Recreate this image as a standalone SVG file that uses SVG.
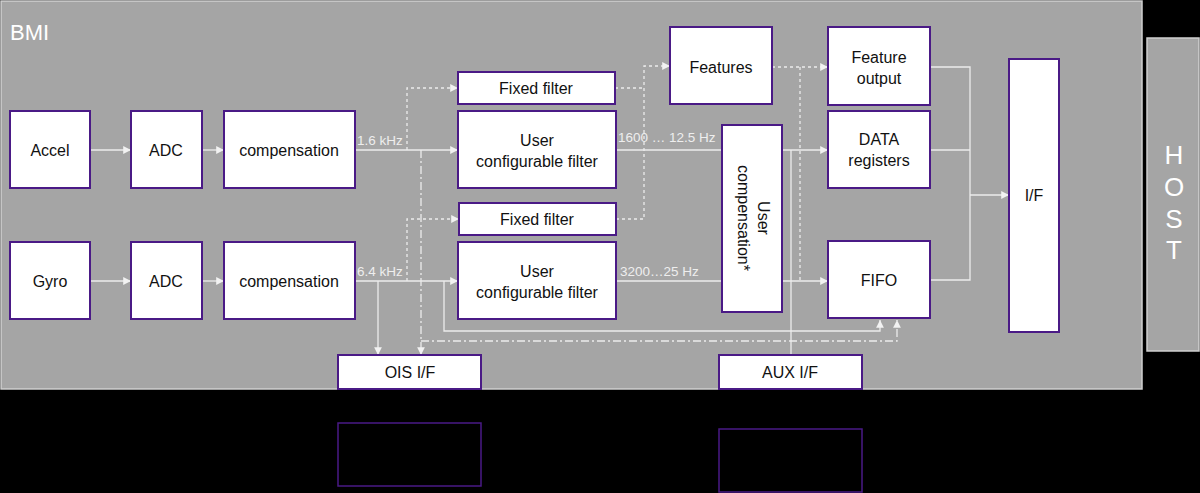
<svg xmlns="http://www.w3.org/2000/svg" width="1200" height="493" viewBox="0 0 1200 493">
<defs>
<marker id="ar" viewBox="0 0 10 10" refX="10" refY="5" markerWidth="6" markerHeight="6" orient="auto"><path d="M0,0 L10,5 L0,10 z" fill="#f2f2f2"/></marker>
<style>
.b{fill:#fff;stroke:#4a1a86;stroke-width:2}
.o{fill:none;stroke:#4a1a86;stroke-width:1.5}
.t{font-family:"Liberation Sans",Arial,sans-serif;font-size:16px;fill:#111;text-anchor:middle}
.l{font-family:"Liberation Sans",Arial,sans-serif;font-size:13.5px;fill:#eee}
.c{fill:none;stroke:#ececec;stroke-width:1.3}
.d{stroke-dasharray:3,3}
.dd{stroke-dasharray:8,3,2,3}
</style>
</defs>
<rect width="1200" height="493" fill="#000"/>
<rect x="1" y="1" width="1141" height="388" fill="#a5a5a5" stroke="#d0d0d0" stroke-width="1.5"/>
<text x="10" y="40" style="font-family:'Liberation Sans',Arial,sans-serif;font-size:22px;fill:#fff">BMI</text>
<rect x="1147" y="38" width="52" height="313" fill="#a5a5a5" stroke="#d0d0d0" stroke-width="1.5"/>
<g style="font-family:'Liberation Sans',Arial,sans-serif;font-size:26px;fill:#fff" text-anchor="middle">
<text x="1174" y="164">H</text><text x="1174" y="196">O</text><text x="1174" y="228">S</text><text x="1174" y="259">T</text>
</g>
<g id="connectors">
<path class="c" d="M90,150H131" marker-end="url(#ar)"/>
<path class="c" d="M202,150H224" marker-end="url(#ar)"/>
<path class="c" d="M355,150H458" marker-end="url(#ar)"/>
<path class="c" d="M90,281H131" marker-end="url(#ar)"/>
<path class="c" d="M202,281H224" marker-end="url(#ar)"/>
<path class="c" d="M355,281H458" marker-end="url(#ar)"/>
<path class="c d" d="M407,150V88H458" marker-end="url(#ar)"/>
<path class="c d" d="M407,281V219H459" marker-end="url(#ar)"/>
<path class="c dd" d="M421,150V355" marker-end="url(#ar)"/>
<path class="c dd" d="M421,341H897V320" marker-end="url(#ar)"/>
<path class="c" d="M378,281V355" marker-end="url(#ar)"/>
<path class="c" d="M444,281V331H880V320" marker-end="url(#ar)"/>
<path class="c d" d="M615,88H644"/>
<path class="c d" d="M616,219H644V66H670" marker-end="url(#ar)"/>
<path class="c d" d="M772,67H828" marker-end="url(#ar)"/>
<path class="c d" d="M800,67V280"/>
<path class="c" d="M616,150H722"/>
<path class="c" d="M616,281H722"/>
<path class="c" d="M782,150H828" marker-end="url(#ar)"/>
<path class="c" d="M782,281H828" marker-end="url(#ar)"/>
<path class="c" d="M791,150V355"/>
<path class="c" d="M930,67H970V280H930M930,150H970"/>
<path class="c" d="M970,195H1009" marker-end="url(#ar)"/>
</g>
<text class="l" x="357" y="145">1.6 kHz</text>
<text class="l" x="357" y="276">6.4 kHz</text>
<text class="l" x="618" y="142">1600 … 12.5 Hz</text>
<text class="l" x="620" y="276">3200…25 Hz</text>
<g id="accel"><rect class="b" x="10" y="111" width="80" height="77"/><text class="t" x="50" y="156">Accel</text></g>
<g id="adc1"><rect class="b" x="131" y="111" width="71" height="77"/><text class="t" x="166" y="156">ADC</text></g>
<g id="comp1"><rect class="b" x="224" y="111" width="131" height="77"/><text class="t" x="289" y="156">compensation</text></g>
<g id="gyro"><rect class="b" x="10" y="242" width="80" height="77"/><text class="t" x="50" y="287">Gyro</text></g>
<g id="adc2"><rect class="b" x="131" y="242" width="71" height="77"/><text class="t" x="166" y="287">ADC</text></g>
<g id="comp2"><rect class="b" x="224" y="242" width="131" height="77"/><text class="t" x="289" y="287">compensation</text></g>
<g id="ff1"><rect class="b" x="458" y="72" width="157" height="32"/><text class="t" x="536" y="94">Fixed filter</text></g>
<g id="ucf1"><rect class="b" x="458" y="111" width="158" height="77"/><text class="t" x="537" y="146">User</text><text class="t" x="537" y="167">configurable filter</text></g>
<g id="ff2"><rect class="b" x="459" y="203" width="157" height="32"/><text class="t" x="537" y="225">Fixed filter</text></g>
<g id="ucf2"><rect class="b" x="458" y="242" width="158" height="77"/><text class="t" x="537" y="277">User</text><text class="t" x="537" y="298">configurable filter</text></g>
<g id="features"><rect class="b" x="670" y="27" width="102" height="77"/><text class="t" x="721" y="73">Features</text></g>
<g id="ucomp"><rect class="b" x="722" y="125" width="60" height="187"/><text class="t" transform="translate(758,218) rotate(90)" x="0" y="0">User</text><text class="t" transform="translate(738,218) rotate(90)" x="0" y="0">compensation*</text></g>
<g id="fout"><rect class="b" x="828" y="27" width="102" height="78"/><text class="t" x="879" y="63">Feature</text><text class="t" x="879" y="84">output</text></g>
<g id="data"><rect class="b" x="828" y="111" width="102" height="77"/><text class="t" x="879" y="145">DATA</text><text class="t" x="879" y="166">registers</text></g>
<g id="fifo"><rect class="b" x="828" y="241" width="102" height="77"/><text class="t" x="879" y="286">FIFO</text></g>
<g id="if"><rect class="b" x="1009" y="59" width="50" height="273"/><text class="t" x="1034" y="201">I/F</text></g>
<g id="ois"><rect class="b" x="338" y="355" width="143" height="34"/><text class="t" x="410" y="378">OIS I/F</text></g>
<g id="aux"><rect class="b" x="719" y="355" width="143" height="34"/><text class="t" x="790" y="378">AUX I/F</text></g>
<g id="ois-ext"><rect class="o" x="338" y="423" width="143" height="63"/></g>
<g id="aux-ext"><rect class="o" x="719" y="429" width="143" height="63"/></g>
</svg>
